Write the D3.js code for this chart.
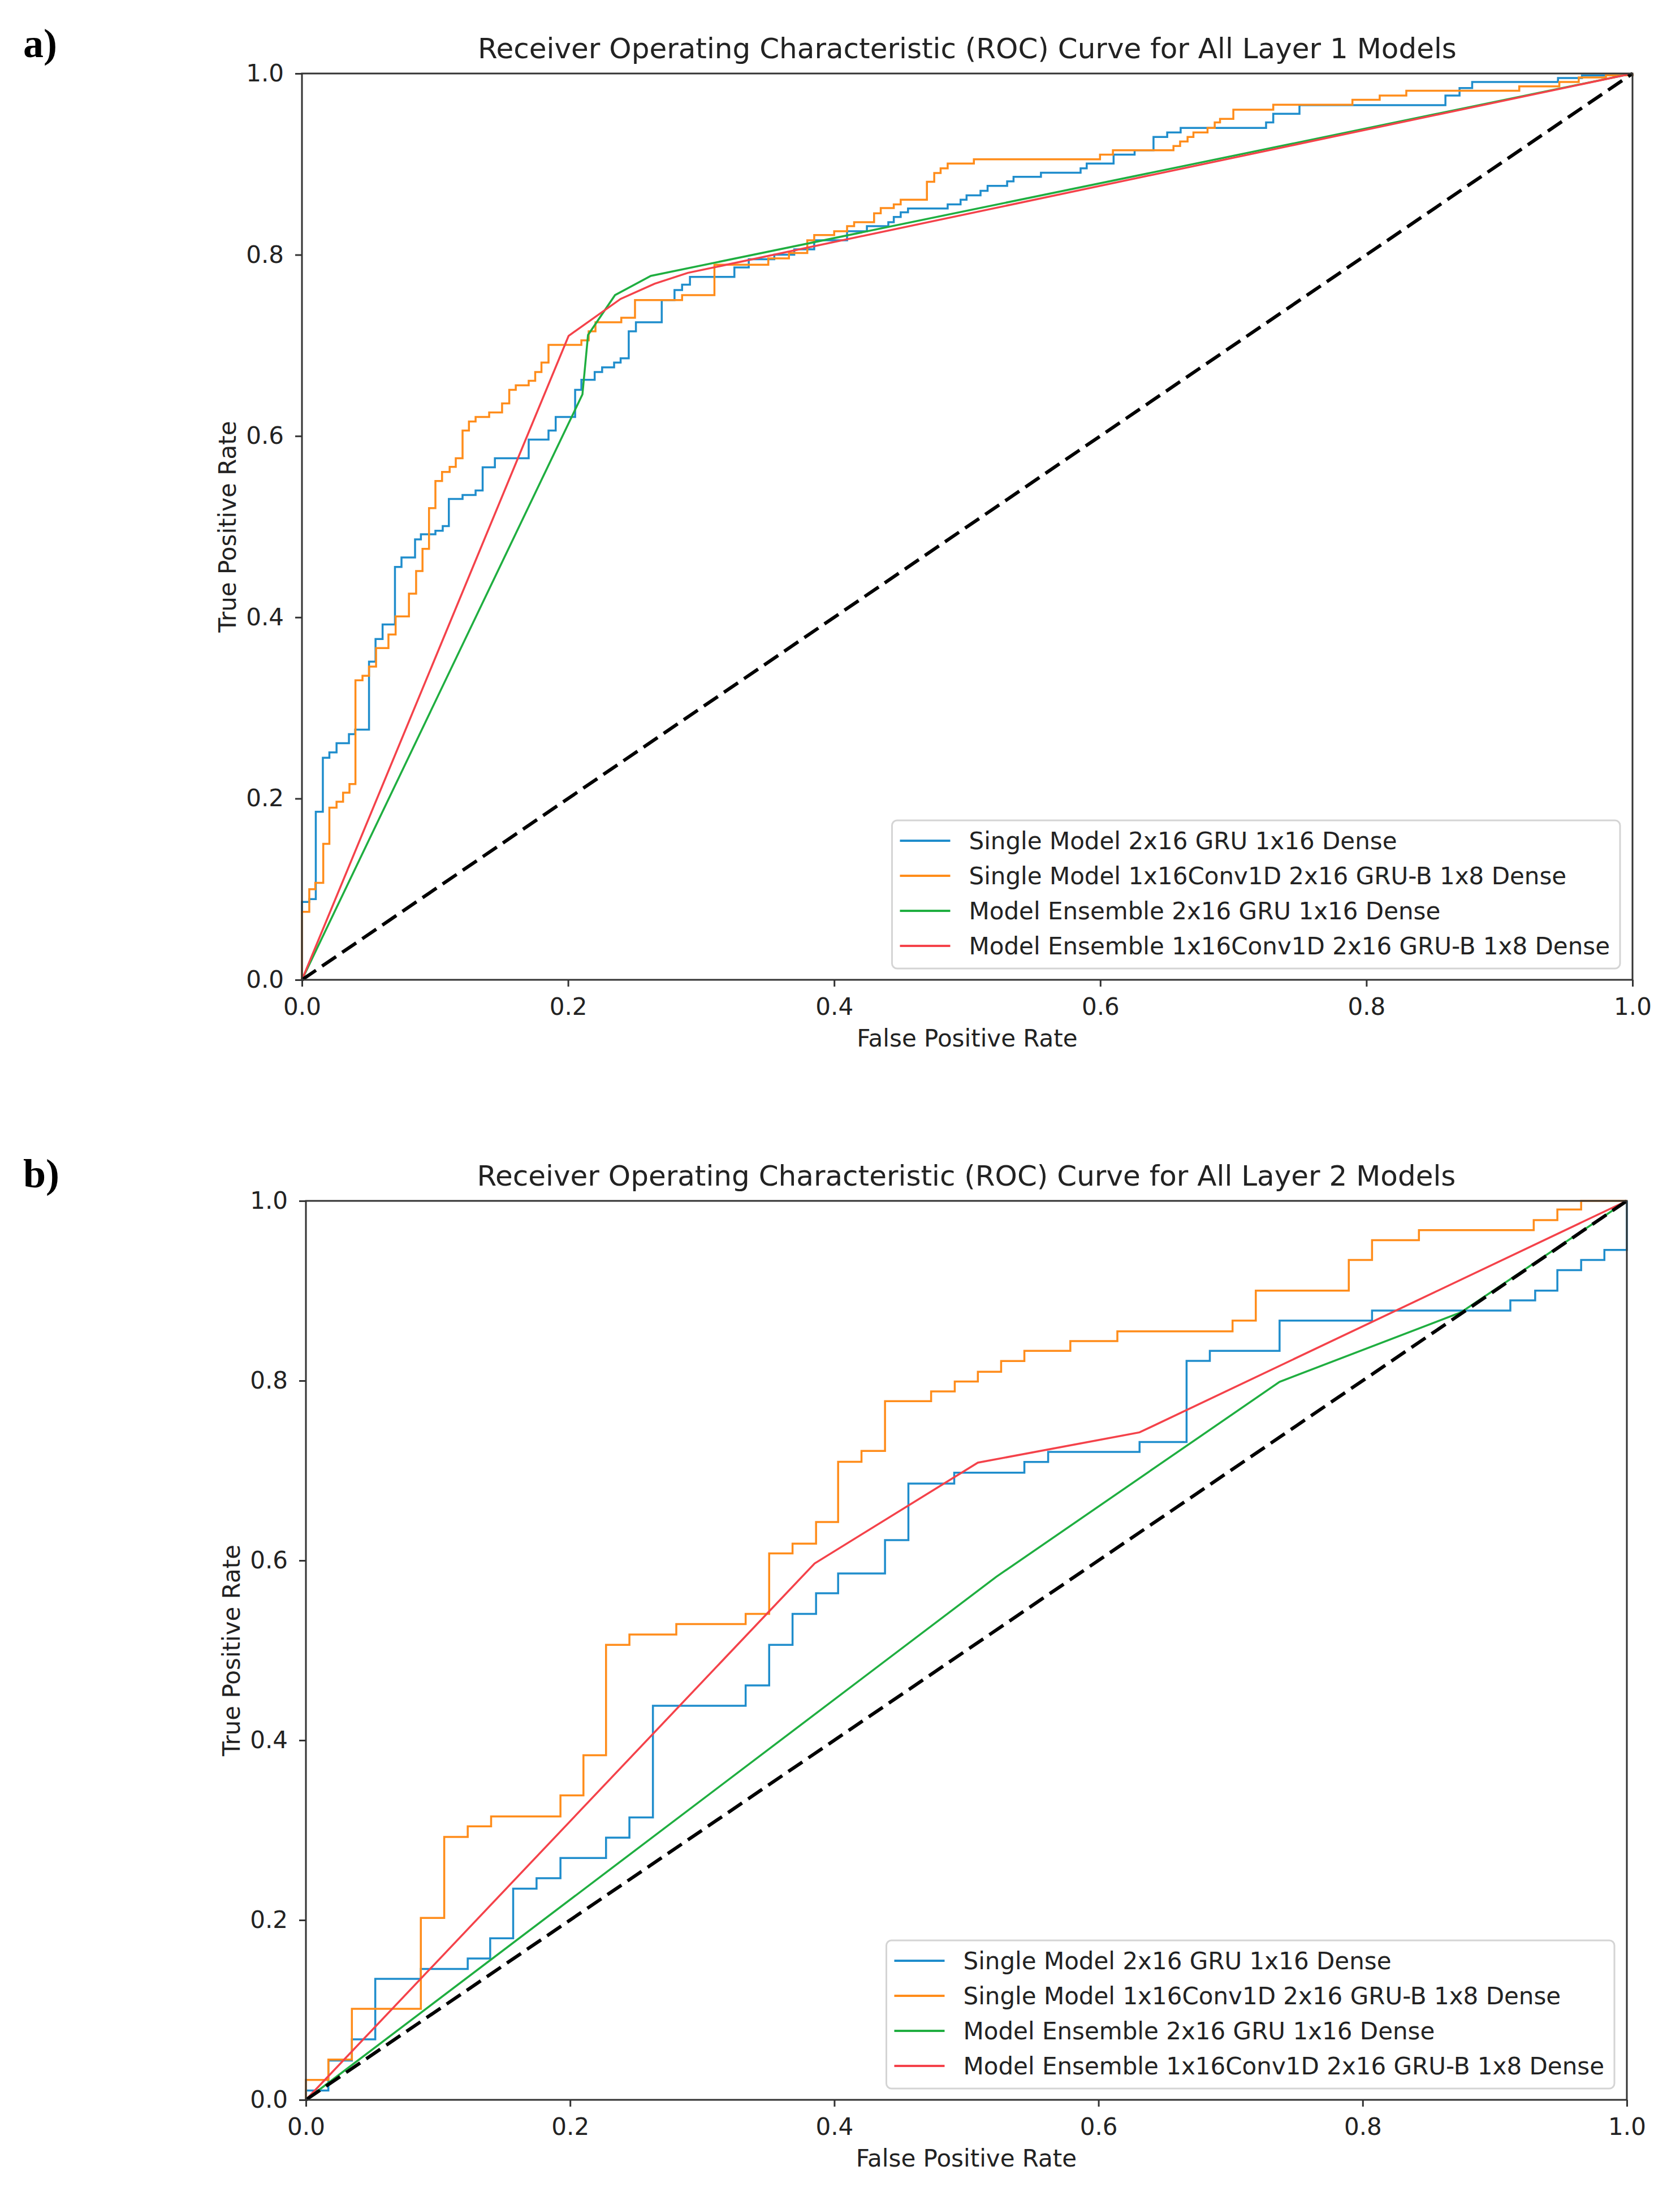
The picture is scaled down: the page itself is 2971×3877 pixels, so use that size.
<!DOCTYPE html>
<html>
<head>
<meta charset="utf-8">
<script src="https://cdn.jsdelivr.net/npm/d3@7"></script>
<style>
  body { margin: 0; background: #fff; }
</style>
</head>
<body>
<div id="chartHolder"></div>
<script>
// ---- data ----
const tickValues = [0, 0.2, 0.4, 0.6, 0.8, 1.0];
const legendNames = [
  "Single Model 2x16 GRU 1x16 Dense",
  "Single Model 1x16Conv1D 2x16 GRU-B 1x8 Dense",
  "Model Ensemble 2x16 GRU 1x16 Dense",
  "Model Ensemble 1x16Conv1D 2x16 GRU-B 1x8 Dense"
];
const diagonal = [0, 1];

// Layer 1 - step curves: at each fpr the tpr rises to the given value
const l1GruFpr = [0, 0, 0.0055, 0.0104, 0.0157, 0.0206, 0.026, 0.0353, 0.040, 0.0504, 0.0553, 0.0606, 0.0699, 0.0748, 0.085, 0.0894, 0.1003, 0.1058, 0.1104, 0.1207, 0.1305, 0.1358, 0.145, 0.1704, 0.1853, 0.1907, 0.2053, 0.210, 0.220, 0.2256, 0.2346, 0.2395, 0.2456, 0.251, 0.2704, 0.280, 0.2857, 0.2916, 0.325, 0.3358, 0.355, 0.370, 0.385, 0.4097, 0.4246, 0.4407, 0.4448, 0.450, 0.4555, 0.4853, 0.495, 0.4995, 0.510, 0.5153, 0.530, 0.5348, 0.5554, 0.5852, 0.5898, 0.610, 0.6258, 0.640, 0.6503, 0.6604, 0.7246, 0.730, 0.7497, 0.8594, 0.870, 0.8795, 0.944, 0.962, 1.0];
const l1GruTpr = [0, 0.086, 0.089, 0.1855, 0.245, 0.251, 0.261, 0.271, 0.276, 0.351, 0.376, 0.392, 0.4556, 0.466, 0.486, 0.4916, 0.4955, 0.5007, 0.5305, 0.535, 0.540, 0.5655, 0.5755, 0.596, 0.606, 0.621, 0.651, 0.662, 0.6706, 0.6757, 0.681, 0.6857, 0.7155, 0.7255, 0.750, 0.761, 0.767, 0.7755, 0.786, 0.795, 0.800, 0.806, 0.816, 0.826, 0.8316, 0.836, 0.8417, 0.8469, 0.851, 0.8556, 0.8607, 0.8656, 0.8706, 0.876, 0.881, 0.886, 0.8905, 0.8954, 0.9006, 0.9105, 0.9153, 0.930, 0.935, 0.940, 0.946, 0.9555, 0.965, 0.9757, 0.984, 0.9906, 0.995, 0.998, 1.0];

const l1ConvFpr = [0, 0, 0.0055, 0.010, 0.016, 0.0206, 0.026, 0.0309, 0.0357, 0.0402, 0.0455, 0.0504, 0.0557, 0.065, 0.0704, 0.0804, 0.0858, 0.0906, 0.0955, 0.1003, 0.1053, 0.111, 0.1156, 0.1207, 0.1255, 0.1305, 0.1407, 0.1504, 0.1558, 0.1607, 0.1704, 0.1753, 0.180, 0.1853, 0.210, 0.2155, 0.2206, 0.240, 0.2503, 0.2857, 0.310, 0.3505, 0.366, 0.3798, 0.385, 0.400, 0.4097, 0.415, 0.430, 0.435, 0.4448, 0.450, 0.4697, 0.4752, 0.480, 0.4853, 0.505, 0.5998, 0.6095, 0.655, 0.660, 0.6656, 0.670, 0.6806, 0.686, 0.690, 0.700, 0.730, 0.7895, 0.810, 0.830, 0.9149, 0.945, 0.9596, 0.980, 1.0];
const l1ConvTpr = [0, 0.075, 0.100, 0.107, 0.150, 0.190, 0.1965, 0.2065, 0.216, 0.3304, 0.3355, 0.3456, 0.366, 0.381, 0.401, 0.426, 0.451, 0.4755, 0.5205, 0.5504, 0.5604, 0.566, 0.5755, 0.606, 0.616, 0.621, 0.626, 0.636, 0.651, 0.656, 0.661, 0.6706, 0.681, 0.7005, 0.7055, 0.7155, 0.7255, 0.7305, 0.750, 0.7555, 0.789, 0.796, 0.802, 0.816, 0.8218, 0.826, 0.8316, 0.836, 0.8457, 0.8515, 0.8556, 0.8607, 0.8806, 0.8902, 0.8954, 0.9006, 0.9053, 0.9105, 0.9153, 0.920, 0.925, 0.930, 0.935, 0.940, 0.946, 0.950, 0.960, 0.9655, 0.971, 0.9757, 0.981, 0.9858, 0.9906, 0.9956, 0.998, 1.0];

const l1EnsGruFpr = [0, 0.2108, 0.215, 0.2353, 0.2622, 1.0];
const l1EnsGruTpr = [0, 0.6459, 0.7115, 0.7555, 0.7767, 1.0];
const l1EnsConvFpr = [0, 0.2004, 0.2395, 0.265, 0.290, 1.0];
const l1EnsConvTpr = [0, 0.7105, 0.7513, 0.768, 0.780, 1.0];

// Layer 2
const l2GruFpr = [0, 0, 0.0170, 0.0348, 0.0525, 0.0870, 0.1225, 0.1395, 0.1569, 0.1746, 0.1927, 0.2272, 0.2449, 0.2627, 0.3329, 0.3507, 0.3684, 0.3862, 0.4029, 0.4384, 0.4561, 0.4908, 0.5439, 0.5619, 0.6311, 0.6667, 0.6843, 0.7371, 0.8071, 0.9118, 0.9306, 0.9474, 0.9654, 0.983, 1.0];
const l2GruTpr = [0, 0.0104, 0.0437, 0.0673, 0.1346, 0.1456, 0.1573, 0.1797, 0.2349, 0.2465, 0.269, 0.2917, 0.3141, 0.4383, 0.4610, 0.5061, 0.5405, 0.5635, 0.5855, 0.6226, 0.6855, 0.6976, 0.7096, 0.7208, 0.7317, 0.8220, 0.8332, 0.8669, 0.878, 0.8893, 0.9001, 0.9230, 0.9342, 0.9455, 1.0];

const l2ConvFpr = [0, 0, 0.0170, 0.0348, 0.0870, 0.1047, 0.1225, 0.1402, 0.1927, 0.2101, 0.2272, 0.2449, 0.2804, 0.3329, 0.3507, 0.3684, 0.3862, 0.4029, 0.4206, 0.4384, 0.4733, 0.4912, 0.5087, 0.5263, 0.5439, 0.5787, 0.6143, 0.7015, 0.7191, 0.7895, 0.8071, 0.8426, 0.9295, 0.9474, 0.9654, 1.0];
const l2ConvTpr = [0, 0.0221, 0.0448, 0.1013, 0.2024, 0.2925, 0.3043, 0.3152, 0.3387, 0.3834, 0.5061, 0.5176, 0.5293, 0.5405, 0.6079, 0.6187, 0.6428, 0.7098, 0.7218, 0.7772, 0.7881, 0.7991, 0.8099, 0.8219, 0.8332, 0.844, 0.8548, 0.8669, 0.9001, 0.9342, 0.9563, 0.9675, 0.9786, 0.9904, 1.0, 1.0];

const l2EnsGruFpr = [0, 0.5228, 0.7371, 0.8744, 1.0];
const l2EnsGruTpr = [0, 0.582, 0.7987, 0.876, 1.0];
const l2EnsConvFpr = [0, 0.3851, 0.5087, 0.6311, 1.0];
const l2EnsConvTpr = [0, 0.5967, 0.7088, 0.7425, 1.0];

// ---- drawing ----
const colors = ["#1f8dcc", "#ff8c1a", "#1fae40", "#f4424a"];
const zip = (a, b) => a.map((v, i) => [v, b[i]]);

const svg = d3.select("#chartHolder")
  .append("svg")
  .attr("width", 2971)
  .attr("height", 3877)
  .style("font-family", "'DejaVu Sans', sans-serif");

function drawPanel(p) {
  const x = d3.scaleLinear().domain([0, 1]).range([p.left, p.right]);
  const y = d3.scaleLinear().domain([0, 1]).range([p.bottom, p.top]);
  const g = svg.append("g");

  const stepLine = d3.line().x(d => x(d[0])).y(d => y(d[1])).curve(d3.curveStepAfter);
  const straightLine = d3.line().x(d => x(d[0])).y(d => y(d[1]));

  p.curves.forEach((c, i) => {
    g.append("path")
      .datum(zip(c.fpr, c.tpr))
      .attr("d", c.step ? stepLine : straightLine)
      .attr("fill", "none")
      .attr("stroke", colors[i])
      .attr("stroke-width", 3.5)
      .attr("stroke-linejoin", "miter");
  });

  // chance line
  g.append("path")
    .datum(zip(diagonal, diagonal))
    .attr("d", straightLine)
    .attr("fill", "none")
    .attr("stroke", "#000")
    .attr("stroke-width", 6)
    .attr("stroke-dasharray", "30,13");

  // axes
  const fmt = d3.format(".1f");
  const xAxis = g.append("g")
    .attr("transform", `translate(0,${p.bottom})`)
    .call(d3.axisBottom(x).tickValues(tickValues).tickFormat(fmt).tickSize(12).tickPadding(20));
  const yAxis = g.append("g")
    .attr("transform", `translate(${p.left},0)`)
    .call(d3.axisLeft(y).tickValues(tickValues).tickFormat(fmt).tickSize(12).tickPadding(20));
  [xAxis, yAxis].forEach(a => {
    a.select(".domain").remove();
    a.selectAll(".tick line").attr("stroke", "#333").attr("stroke-width", 3);
    a.selectAll(".tick text")
      .attr("fill", "#222")
      .style("font-size", "42px")
      .style("font-family", "'DejaVu Sans', sans-serif");
  });

  // frame
  g.append("rect")
    .attr("x", p.left).attr("y", p.top)
    .attr("width", p.right - p.left).attr("height", p.bottom - p.top)
    .attr("fill", "none").attr("stroke", "#333").attr("stroke-width", 3);

  // title & labels
  const cx = (p.left + p.right) / 2;
  const cy = (p.top + p.bottom) / 2;
  g.append("text")
    .attr("x", cx).attr("y", p.top - 27)
    .attr("text-anchor", "middle")
    .style("font-size", "50px").attr("fill", "#222")
    .text(p.title);
  g.append("text")
    .attr("x", cx).attr("y", p.bottom + 118)
    .attr("text-anchor", "middle")
    .style("font-size", "42px").attr("fill", "#222")
    .text("False Positive Rate");
  g.append("text")
    .attr("transform", `translate(${p.left - 117},${cy}) rotate(-90)`)
    .attr("text-anchor", "middle")
    .style("font-size", "42px").attr("fill", "#222")
    .text("True Positive Rate");

  // panel letter
  svg.append("text")
    .attr("x", 41).attr("y", p.letterY)
    .style("font-family", "'Liberation Serif', serif")
    .style("font-weight", "bold")
    .style("font-size", "72px")
    .attr("fill", "#000")
    .text(p.letter);

  // legend
  const rowGap = 62;
  const legH = 262;
  const legBottom = p.bottom - 20;
  const legTop = legBottom - legH;
  const leg = g.append("g");
  const box = leg.append("rect");
  const texts = [];
  legendNames.forEach((name, i) => {
    const ry = legTop + 36 + i * rowGap;
    leg.append("line")
      .attr("x1", 0).attr("x2", 89)
      .attr("y1", ry).attr("y2", ry)
      .attr("stroke", colors[i]).attr("stroke-width", 4)
      .attr("class", "handle");
    texts.push(leg.append("text")
      .attr("x", 0).attr("y", ry).attr("dy", "0.35em")
      .style("font-size", "42px").attr("fill", "#222")
      .text(name));
  });
  const maxLen = d3.max(texts, t => t.node().getComputedTextLength());
  const legW = 136 + maxLen + 18;
  const legLeft = p.right - 22 - legW;
  leg.selectAll("line.handle").attr("x1", legLeft + 14).attr("x2", legLeft + 103);
  texts.forEach(t => t.attr("x", legLeft + 136));
  box.attr("x", legLeft).attr("y", legTop)
    .attr("width", legW).attr("height", legH)
    .attr("rx", 9)
    .attr("fill", "#fff").attr("fill-opacity", 0.85)
    .attr("stroke", "#d4d4d4").attr("stroke-width", 3);
}

drawPanel({
  left: 534, right: 2887, top: 130, bottom: 1733,
  title: "Receiver Operating Characteristic (ROC) Curve for All Layer 1 Models",
  letter: "a)", letterY: 101,
  curves: [
    { fpr: l1GruFpr, tpr: l1GruTpr, step: true },
    { fpr: l1ConvFpr, tpr: l1ConvTpr, step: true },
    { fpr: l1EnsGruFpr, tpr: l1EnsGruTpr, step: false },
    { fpr: l1EnsConvFpr, tpr: l1EnsConvTpr, step: false }
  ]
});

drawPanel({
  left: 541, right: 2877, top: 2124, bottom: 3714,
  title: "Receiver Operating Characteristic (ROC) Curve for All Layer 2 Models",
  letter: "b)", letterY: 2100,
  curves: [
    { fpr: l2GruFpr, tpr: l2GruTpr, step: true },
    { fpr: l2ConvFpr, tpr: l2ConvTpr, step: true },
    { fpr: l2EnsGruFpr, tpr: l2EnsGruTpr, step: false },
    { fpr: l2EnsConvFpr, tpr: l2EnsConvTpr, step: false }
  ]
});
</script>
</body>
</html>
